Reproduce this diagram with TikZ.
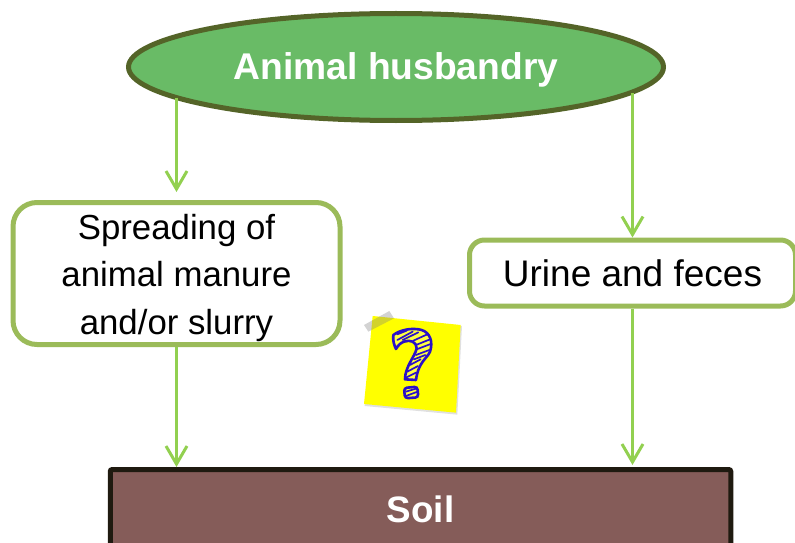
\documentclass[tikz,border=0pt]{standalone}
\usepackage{fontspec}
\setmainfont{Liberation Sans}
\usetikzlibrary{shapes.geometric,arrows.meta}
\definecolor{ellfill}{HTML}{69BB66}
\definecolor{elledge}{HTML}{546428}
\definecolor{boxedge}{HTML}{9BBB59}
\definecolor{arrowc}{HTML}{92D050}
\definecolor{soilfill}{HTML}{855C59}
\definecolor{soiledge}{HTML}{1F1A10}
\definecolor{notey}{HTML}{FFFF00}
\definecolor{qblue}{HTML}{2A10C8}
\tikzset{
  x=1pt,y=-1pt,
  flowbox/.style={align=center,inner sep=0pt,draw=boxedge,fill=white,line width=5pt},
  conn/.style={draw=arrowc,line width=3pt,-{Straight Barb[length=18pt,width=21pt,line width=3pt]}},
  hatch/.style={draw=qblue,line width=1.7pt,line cap=round},
}
\begin{document}
\begin{tikzpicture}
\useasboundingbox (0,0) rectangle (795,543);
\clip (0,0) rectangle (795,543);
% nodes
\node[ellipse,draw=elledge,fill=ellfill,line width=5pt,minimum width=535pt,minimum height=107pt,inner sep=0pt,
  text=white,font=\fontsize{37.2}{44}\selectfont\bfseries] (ell) at (396,67) {\raisebox{-13pt}[0pt][0pt]{Animal husbandry}};
\node[flowbox,rounded corners=24pt,minimum width=327pt,minimum height=142pt,font=\fontsize{34.8}{47.5}\selectfont] (lbox) at (176.5,273.5)
  {\rule{0pt}{34pt}Spreading of\\animal manure\\and/or slurry};
\node[flowbox,rounded corners=15pt,minimum width=326pt,minimum height=66pt,font=\fontsize{37}{44}\selectfont] (rbox) at (632.5,273)
  {Urine and feces};
\node[draw=soiledge,fill=soilfill,line width=5pt,rounded corners=2pt,minimum width=620.5pt,minimum height=80pt,inner sep=0pt,
  text=white,font=\fontsize{36.8}{44}\selectfont\bfseries] (soil) at (420.5,509.5) {Soil};
% points on the ellipse's rim where the two upper connectors leave it
\coordinate (ellL) at (176.5,97.5);
\coordinate (ellR) at (632.5,93);
% connectors
\draw[conn,shorten >=8pt] (ellL) -- (lbox.north);
\draw[conn] (ellR) -- (rbox.north);
\draw[conn] (lbox.south) -- (lbox.south |- soil.north);
\draw[conn,shorten >=2pt] (rbox.south) -- (rbox.south |- soil.north);
% sticky note
\begin{scope}[shift={(350,300)},x=0.3333pt,y=-0.3333pt]
  \fill[black!12] (72,50) -- (336,78) -- (322,344) -- (44,318) -- cycle;
  \fill[notey] (68,48) -- (332,75) -- (318,338) -- (42,312) -- cycle;
  \fill[gray,opacity=.35] (42,75) -- (118,33) -- (132,55) -- (55,95) -- cycle;
  \draw[qblue,line width=2.6pt,line join=round,fill=notey!75!white]
    (130,105) .. controls (150,90) and (185,82) .. (215,90)
    .. controls (240,98) and (250,125) .. (240,155)
    .. controls (232,175) and (205,185) .. (198,240)
    -- (165,238) .. controls (165,200) and (195,170) .. (200,145)
    .. controls (200,125) and (180,118) .. (162,125)
    .. controls (150,130) and (145,135) .. (138,147)
    .. controls (132,135) and (128,120) .. (130,105) -- cycle;
  \draw[hatch] (142,103) -- (170,92) (142,120) -- (188,95) (158,120) -- (205,97)
    (190,122) -- (232,103) (198,135) -- (240,118) (200,148) -- (242,132)
    (198,165) -- (238,150) (192,178) -- (226,165) (180,195) -- (212,178)
    (172,215) -- (204,198) (168,233) -- (198,218);
  \draw[qblue,line width=2.6pt,fill=notey!75!white,rounded corners=3pt]
    (162,264) -- (202,260) -- (205,292) -- (165,295) -- cycle;
  \draw[hatch] (168,275) -- (198,266) (168,288) -- (200,276);
\end{scope}
\end{tikzpicture}
\end{document}
